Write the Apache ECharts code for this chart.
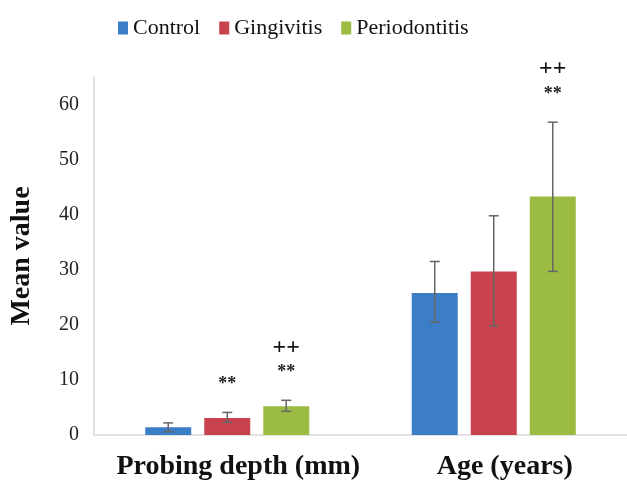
<!DOCTYPE html>
<html>
<head>
<meta charset="utf-8">
<script src="https://cdn.jsdelivr.net/npm/echarts@6/dist/echarts.min.js"></script>
<style>
  html, body { margin: 0; padding: 0; background: #fff; }
  #chart { width: 627px; height: 486px; }
</style>
</head>
<body>
<div id="chart"></div>
<script>
const categories = ['Probing depth (mm)', 'Age (years)']
const groups = ['Control', 'Gingivitis', 'Periodontitis']
const control = [1.4, 25.8]
const gingivitis = [3.1, 29.7]
const periodontitis = [5.2, 43.3]
// error bar ranges [low, high]
const controlErr = [[0.6, 2.2], [20.5, 31.5]]
const gingivitisErr = [[2.3, 4.1], [19.8, 39.8]]
const periodontitisErr = [[4.3, 6.3], [29.7, 56.8]]
// significance marks per group and category
const starMarks = [['', ''], ['**', ''], ['**', '**']]
const plusMarks = [['', ''], ['', ''], ['++', '++']]
const yTicks = [0, 10, 20, 30, 40, 50, 60]

const colors = ['#3b7ec6', '#c8434d', '#9cbb42']
const values = [control, gingivitis, periodontitis]
const errs = [controlErr, gingivitisErr, periodontitisErr]

const BAR_W = 46
const GAP = 0.283
const serif = '"Liberation Serif", "Times New Roman", serif'

const chart = echarts.init(document.getElementById('chart'))

const barSeries = groups.map((g, i) => ({
  name: g,
  type: 'bar',
  barWidth: BAR_W,
  barGap: (GAP * 100) + '%',
  itemStyle: { color: colors[i] },
  data: values[i],
  z: 2
}))

const errSeries = groups.map((g, i) => ({
  type: 'custom',
  name: g + '-err',
  z: 5,
  data: errs[i].map((e, k) => [k, e[0], e[1]]),
  renderItem: (params, api) => {
    const k = api.value(0)
    const off = (i - 1) * BAR_W * (1 + GAP)
    const lo = api.coord([k, api.value(1)])
    const hi = api.coord([k, api.value(2)])
    const x = lo[0] + off
    const cap = 5
    const style = { stroke: '#666', lineWidth: 1.5 }
    const children = [
      { type: 'line', shape: { x1: x, y1: hi[1], x2: x, y2: lo[1] }, style },
      { type: 'line', shape: { x1: x - cap, y1: hi[1], x2: x + cap, y2: hi[1] }, style },
      { type: 'line', shape: { x1: x - cap, y1: lo[1], x2: x + cap, y2: lo[1] }, style }
    ]
    const star = starMarks[i][k]
    const plus = plusMarks[i][k]
    if (star) children.push({ type: 'text', style: { x: x, y: hi[1] - 28, text: star, fill: '#222', font: 'bold 18px ' + serif, align: 'center', verticalAlign: 'middle' } })
    if (plus) children.push({ type: 'text', style: { x: x, y: hi[1] - 53, text: plus, fill: '#111', font: 'bold 24px ' + serif, align: 'center', verticalAlign: 'middle' } })
    return { type: 'group', children }
  }
}))

chart.setOption({
  backgroundColor: '#fff',
  animation: false,
  color: colors,
  legend: {
    data: groups,
    top: 12,
    left: 113,
    itemWidth: 10,
    itemHeight: 13,
    itemGap: 19,
    icon: 'rect',
    textStyle: { fontFamily: serif, fontSize: 22, color: '#111' }
  },
  grid: { left: 94, right: 0, top: 77, bottom: 51 },
  xAxis: {
    type: 'category',
    data: categories,
    axisLine: { lineStyle: { color: '#d9d9d9', width: 1.5 } },
    axisTick: { show: false },
    axisLabel: { interval: 0, fontFamily: serif, fontWeight: 'bold', fontSize: 28, color: '#111', margin: 18, padding: [0, 0, 0, 22] }
  },
  yAxis: {
    type: 'value',
    min: 0,
    max: 65,
    interval: 10,
    name: 'Mean value',
    nameLocation: 'middle',
    nameGap: 58,
    nameTextStyle: { fontFamily: serif, fontWeight: 'bold', fontSize: 28, color: '#111' },
    axisLine: { show: true, lineStyle: { color: '#d9d9d9', width: 1.5 } },
    axisTick: { show: false },
    splitLine: { show: false },
    axisLabel: {
      fontFamily: serif, fontSize: 20, color: '#222', margin: 15,
      formatter: v => yTicks.includes(v) ? String(v) : ''
    }
  },
  series: [...barSeries, ...errSeries]
})
</script>
</body>
</html>
